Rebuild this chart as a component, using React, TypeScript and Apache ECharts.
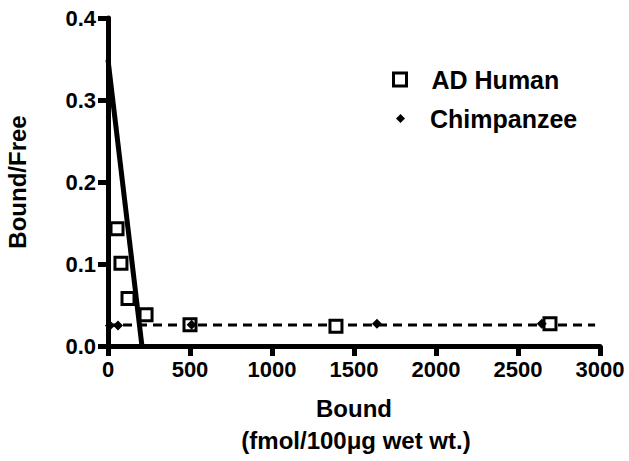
import React, { useEffect, useRef } from "react";
import * as echarts from "echarts";

const xTicks = [0, 500, 1000, 1500, 2000, 2500, 3000];
const yTicks = [0.0, 0.1, 0.2, 0.3, 0.4];

const adHumanX = [55, 79, 122, 232, 500, 1390, 2695];
const adHumanY = [0.143, 0.101, 0.058, 0.038, 0.026, 0.024, 0.027];

const chimpX = [12, 61, 510, 1640, 2645];
const chimpY = [0.025, 0.025, 0.026, 0.027, 0.027];

const fitX = [0, 207];
const fitY = [0.349, 0];

const baseX = [0, 2970];
const baseY = [0.0255, 0.0255];

const font = "'Liberation Sans', Arial, sans-serif";

export default function App() {
  const ref = useRef<HTMLDivElement>(null);
  useEffect(() => {
    const chart = echarts.init(ref.current!, null, { renderer: "svg" });
    const axisCommon = {
      axisLine: { show: true, lineStyle: { color: "#000", width: 5 } },
      axisTick: { show: true, inside: false, length: 10, lineStyle: { color: "#000", width: 5 } },
      splitLine: { show: false },
      axisLabel: { color: "#000", fontFamily: font, fontWeight: "bold", fontSize: 22 },
    };
    const legendText = { color: "#000", fontFamily: font, fontWeight: "bold", fontSize: 25, padding: [0, 0, 0, 20] };
    chart.setOption({
      animation: false,
      backgroundColor: "#fff",
      grid: { left: 108, top: 18, right: 29, bottom: 115, containLabel: false, outerBoundsMode: "none" },
      xAxis: {
        type: "value",
        min: 0,
        max: 3000,
        interval: 500,
        ...axisCommon,
        axisLabel: { ...axisCommon.axisLabel, margin: 12, formatter: (v: number) => String(v) },
        name: "Bound",
        nameLocation: "middle",
        nameGap: 50,
        nameTextStyle: { color: "#000", fontFamily: font, fontWeight: "bold", fontSize: 24 },
      },
      yAxis: {
        type: "value",
        min: 0,
        max: 0.4,
        interval: 0.1,
        ...axisCommon,
        axisLabel: {
          ...axisCommon.axisLabel,
          margin: 12,
          formatter: (v: number) => v.toFixed(1),
        },
        name: "Bound/Free",
        nameLocation: "middle",
        nameRotate: 90,
        nameGap: 79,
        nameTextStyle: { color: "#000", fontFamily: font, fontWeight: "bold", fontSize: 24 },
      },
      legend: [
        {
          orient: "vertical",
          left: 392,
          top: 67,
          padding: 0,
          itemWidth: 13,
          itemHeight: 13,
          data: [{ name: "AD Human", itemStyle: { color: "#fff", borderColor: "#000", borderWidth: 3 } }],
          textStyle: legendText,
        },
        {
          orient: "vertical",
          left: 396,
          top: 106,
          padding: 0,
          itemWidth: 9,
          itemHeight: 9,
          data: [{ name: "Chimpanzee", icon: "diamond" }],
          textStyle: legendText,
        },
      ],
      graphic: [
        {
          type: "text",
          x: 356,
          y: 440,
          style: {
            text: "(fmol/100μg wet wt.)",
            fill: "#000",
            font: `bold 24px ${font}`,
            textAlign: "center",
            textVerticalAlign: "middle",
          },
        },
      ],
      series: [
        {
          name: "fit",
          type: "line",
          data: fitX.map((x, i) => [x, fitY[i]]),
          showSymbol: false,
          symbol: "none",
          lineStyle: { color: "#000", width: 5 },
          z: 3,
        },
        {
          name: "baseline",
          type: "line",
          data: baseX.map((x, i) => [x, baseY[i]]),
          showSymbol: false,
          symbol: "none",
          lineStyle: { color: "#000", width: 3, type: [9, 6] },
          z: 2,
        },
        {
          name: "AD Human",
          type: "scatter",
          data: adHumanX.map((x, i) => [x, adHumanY[i]]),
          symbol: "rect",
          symbolSize: 12,
          itemStyle: { color: "#fff", borderColor: "#000", borderWidth: 3, opacity: 1 },
          z: 4,
        },
        {
          name: "Chimpanzee",
          type: "scatter",
          data: chimpX.map((x, i) => [x, chimpY[i]]),
          symbol: "diamond",
          symbolSize: 10,
          itemStyle: { color: "#000", opacity: 1 },
          z: 5,
        },
      ],
    });
    return () => chart.dispose();
  }, []);
  return <div ref={ref} style={{ width: 629, height: 461, position: "absolute", left: 0, top: 0 }} />;
}
